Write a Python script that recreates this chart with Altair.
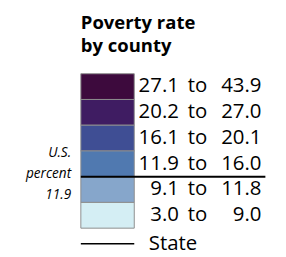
import altair as alt
import pandas as pd

lows = ["27.1", "20.2", "16.1", "11.9", "9.1", "3.0"]
highs = ["43.9", "27.0", "20.1", "16.0", "11.8", "9.0"]
colors = ["#3d0a3d", "#3f1c62", "#3f4e94", "#5079b0", "#86a6cb", "#d4eef4"]
us_percent = "11.9"
us_bin = "11.9 to 16.0"
title_lines = ["Poverty rate", "by county"]
us_lines = ["U.S.", "percent", us_percent]

cats = [f"{a} to {b}" for a, b in zip(lows, highs)]
df = pd.DataFrame({"cat": cats, "lo": lows, "hi": highs, "to": ["to"] * len(cats)})

FONT = "Open Sans"
band_scale = alt.Scale(domain=cats, range=[64, 223], paddingInner=0, paddingOuter=0)
yband = alt.Y("cat:N", sort=cats, axis=None, scale=band_scale)
color = alt.Color("cat:N", scale=alt.Scale(domain=cats, range=colors), legend=None)

boxes = alt.Chart(df).mark_rect(stroke="#8c8c8c", strokeWidth=1).encode(
    y=yband, x=alt.value(75), x2=alt.value(130), color=color)

lo_text = alt.Chart(df).mark_text(align="right", baseline="middle", font=FONT, fontSize=21, color="black").encode(
    y=yband, x=alt.value(176), text="lo:N")
to_text = alt.Chart(df).mark_text(align="left", baseline="middle", font=FONT, fontSize=21, color="black").encode(
    y=yband, x=alt.value(185), text="to:N")
hi_text = alt.Chart(df).mark_text(align="right", baseline="middle", font=FONT, fontSize=21, color="black").encode(
    y=yband, x=alt.value(261), text="hi:N")

us_df = pd.DataFrame({"cat": [us_bin]})
us_rule = alt.Chart(us_df).mark_rule(color="black", strokeWidth=2).encode(
    y=alt.Y("cat:N", sort=cats, axis=None, bandPosition=1, scale=band_scale),
    x=alt.value(75), x2=alt.value(265))

us_df2 = pd.DataFrame({"t": us_lines, "i": [0, 1, 2]})
us_text = alt.Chart(us_df2).mark_text(
    align="right", baseline="middle", font=FONT, fontSize=14, fontStyle="italic", color="black").encode(
    x=alt.value(65),
    y=alt.Y("i:O", axis=None, scale=alt.Scale(type="point", domain=[0, 1, 2], range=[146, 189], padding=0)),
    text="t:N")

state_line = alt.Chart(pd.DataFrame({"k": ["State"]})).mark_rule(color="black", strokeWidth=1.5).encode(
    x=alt.value(75), x2=alt.value(130), y=alt.value(239))
state_text = alt.Chart(pd.DataFrame({"k": ["State"]})).mark_text(
    align="left", baseline="middle", font=FONT, fontSize=21, color="black").encode(
    x=alt.value(145), y=alt.value(239), text="k:N")

title = alt.Chart(pd.DataFrame({"t": title_lines, "i": [0, 1]})).mark_text(
    align="left", baseline="alphabetic", font=FONT, fontSize=19, fontWeight="bold", color="black").encode(
    x=alt.value(75),
    y=alt.Y("i:O", axis=None, scale=alt.Scale(type="point", domain=[0, 1], range=[18, 42], padding=0)),
    text="t:N")

chart = alt.layer(boxes, us_rule, lo_text, to_text, hi_text, us_text, state_line, state_text, title).properties(
    width=278, height=249, padding=0, autosize=alt.AutoSizeParams(type="none")
).configure_view(stroke=None).resolve_scale(y="independent")

chart.save("out.html", embed_options={"renderer": "svg", "actions": False})
